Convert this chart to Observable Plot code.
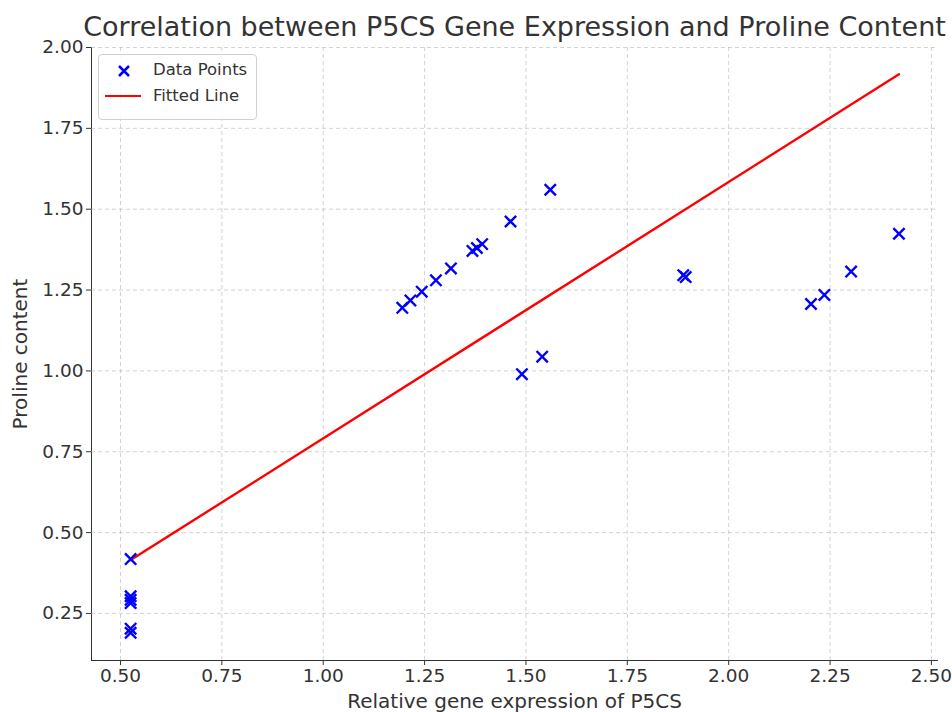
<!DOCTYPE html>
<html>
<head>
<meta charset="utf-8">
<script src="https://cdn.jsdelivr.net/npm/d3@7"></script>
<script src="https://cdn.jsdelivr.net/npm/@observablehq/plot@0.6"></script>
<style>
  html, body { margin: 0; padding: 0; background: #fff; }
  #wrap { position: relative; width: 952px; height: 712px; font-family: "DejaVu Sans", sans-serif; }
  #legend { position: absolute; left: 98px; top: 54px; width: 159px; height: 66px; border: 1px solid #d0d0d0; border-radius: 4px; background: rgba(255,255,255,0.85); box-sizing: border-box; }
  #legend svg { position: absolute; left: 0; top: 0; }
  #legend .lab { position: absolute; left: 54px; font-size: 16.5px; color: #333; line-height: 20px; }
</style>
</head>
<body>
<div id="wrap">
  <div id="chart"></div>
  <div id="legend">
    <svg width="159" height="66">
      <path d="M20,11 L30,21 M30,11 L20,21" stroke="blue" stroke-width="2.5" fill="none"/>
      <line x1="6" x2="42" y1="41" y2="41" stroke="red" stroke-width="2.2"/>
    </svg>
    <div class="lab" style="top:5px">Data Points</div>
    <div class="lab" style="top:31px">Fitted Line</div>
  </div>
</div>
<script>
// Data points
const geneExpr = [0.525, 0.525, 0.525, 0.525, 0.525, 0.525,
  1.195, 1.215, 1.243, 1.278, 1.315, 1.368, 1.379, 1.392, 1.462, 1.560,
  1.490, 1.540, 1.888, 1.894, 2.203, 2.236, 2.302, 2.420];
const proline = [0.418, 0.303, 0.292, 0.282, 0.203, 0.190,
  1.195, 1.218, 1.245, 1.280, 1.317, 1.371, 1.380, 1.392, 1.462, 1.560,
  0.990, 1.044, 1.296, 1.290, 1.207, 1.235, 1.307, 1.424];

// Fitted line endpoints
const fitX = [0.525, 2.42];
const fitY = [0.415, 1.917];

const xTicks = [0.5, 0.75, 1.0, 1.25, 1.5, 1.75, 2.0, 2.25, 2.5];
const yTicks = [0.25, 0.5, 0.75, 1.0, 1.25, 1.5, 1.75, 2.0];

const titleText = "Correlation between P5CS Gene Expression and Proline Content";
const xLabel = "Relative gene expression of P5CS";
const yLabel = "Proline content";

const points = geneExpr.map((x, i) => ({x, y: proline[i]}));
const fit = fitX.map((x, i) => ({x, y: fitY[i]}));

const chart = Plot.plot({
  width: 952,
  height: 712,
  marginLeft: 91,
  marginRight: 15,
  marginTop: 47,
  marginBottom: 52,
  style: { fontFamily: "DejaVu Sans, sans-serif", fontSize: "18.5px", color: "#333", background: "#fff" },
  x: { domain: [0.4285, 2.515], ticks: xTicks, tickFormat: d => d.toFixed(2), label: null, line: true, tickSize: 5, tickPadding: 3 },
  y: { domain: [0.1045, 2.0], ticks: yTicks, tickFormat: d => d.toFixed(2), label: null, line: true, tickSize: 5, tickPadding: 3 },
  marks: [
    Plot.gridX(xTicks, { stroke: "#b0b0b0", strokeOpacity: 0.7, strokeDasharray: "4,3", strokeWidth: 0.8 }),
    Plot.gridY(yTicks, { stroke: "#b0b0b0", strokeOpacity: 0.7, strokeDasharray: "4,3", strokeWidth: 0.8 }),
    Plot.line(fit, { x: "x", y: "y", stroke: "red", strokeWidth: 2.4 }),
    Plot.dot(points, { x: "x", y: "y", symbol: "times", r: 5.2, stroke: "blue", strokeWidth: 2.4 }),
    Plot.text([titleText], { frameAnchor: "top", lineAnchor: "middle", dy: -20, fontSize: 27, fill: "#333" }),
    Plot.text([xLabel], { frameAnchor: "bottom", lineAnchor: "middle", dy: 41, fontSize: 20, fill: "#333" }),
    Plot.text([yLabel], { frameAnchor: "left", textAnchor: "middle", dx: -71, rotate: -90, fontSize: 20, fill: "#333" })
  ]
});
document.getElementById("chart").appendChild(chart);
</script>
</body>
</html>
